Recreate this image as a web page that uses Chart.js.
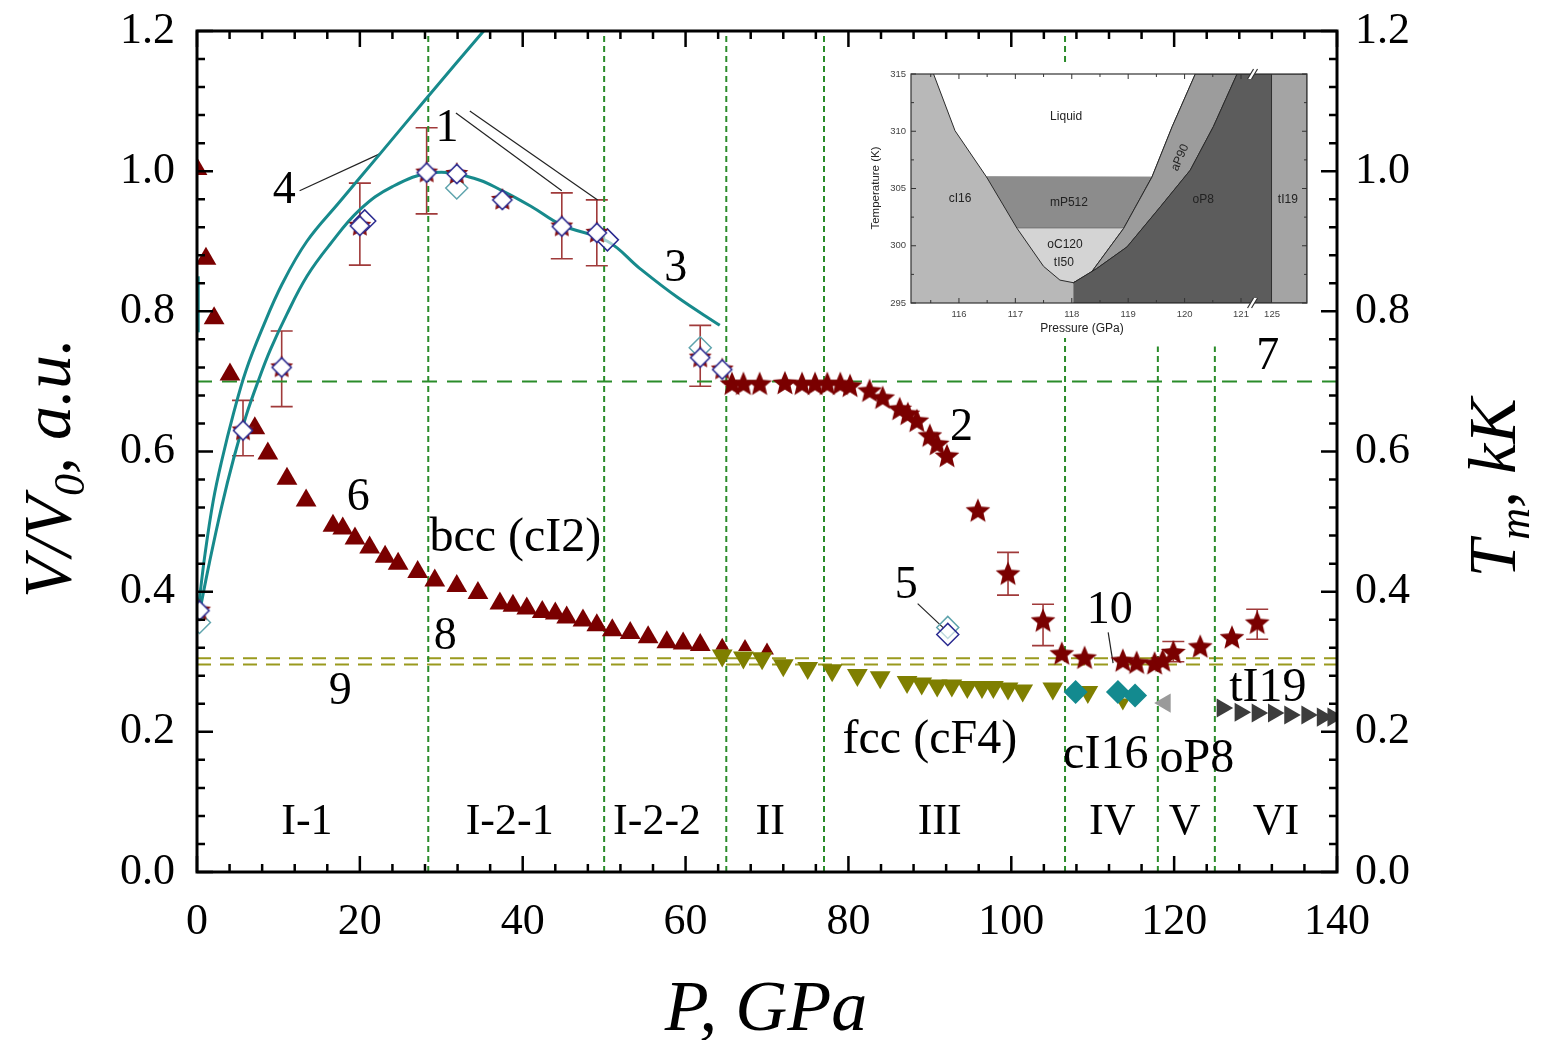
<!DOCTYPE html>
<html>
<head>
<meta charset="utf-8">
<script src="https://cdn.jsdelivr.net/npm/chart.js@4.4.1/dist/chart.umd.min.js"></script>
<style>
  html, body { margin: 0; padding: 0; background: #fff; }
  #wrap { position: relative; width: 1544px; height: 1040px; }
  #main { position: absolute; left: 0; top: 0; }
  #inset { position: absolute; left: 862px; top: 62px; }
</style>
</head>
<body>
<div id="wrap">
  <canvas id="main" width="1544" height="1040"></canvas>
  <canvas id="inset" width="454" height="276"></canvas>
</div>
<script>
const SERIF = '"Liberation Serif", "Times New Roman", serif';
const SANS = '"Liberation Sans", Arial, sans-serif';

// 6: bcc triangles
const triP = [0, 1.1, 2.1, 4.05, 7.1, 8.7, 11.05, 13.4, 16.7, 17.9, 19.4, 21.2, 23.1, 24.7, 27.1, 29.2,
  31.9, 34.5, 37.2, 38.8, 40.5, 42.4, 44.0, 45.4, 47.4, 49.1, 51.0, 53.2, 55.4, 57.7, 59.7, 61.8];
const triV = [1.003, 0.875, 0.790, 0.710, 0.633, 0.597, 0.561, 0.530, 0.494, 0.490, 0.476, 0.463, 0.450, 0.440, 0.428, 0.416,
  0.408, 0.398, 0.383, 0.380, 0.376, 0.371, 0.369, 0.363, 0.359, 0.352, 0.345, 0.341, 0.335, 0.328, 0.326, 0.324];
const triSmallP = [64.5, 67.3, 70.0];
const triSmallV = [0.323, 0.321, 0.316];

// fcc (down triangles)
const fccP = [64.5, 67.1, 69.4, 72.0, 75.0, 78.0, 81.1, 83.9, 87.2, 89.0, 90.9, 92.7, 94.6, 96.4, 97.8, 99.6, 101.4, 105.1, 109.4];
const fccV = [0.309, 0.306, 0.305, 0.295, 0.291, 0.288, 0.281, 0.278, 0.271, 0.269, 0.266, 0.266, 0.264, 0.264, 0.264, 0.262, 0.259, 0.262, 0.257];
const fccSmallP = [113.7];
const fccSmallV = [0.242];

// cI16, oP8, tI19
const ci16P = [107.9, 113.1, 115.2];
const ci16V = [0.257, 0.257, 0.252];
const op8P = [118.9];
const op8V = [0.241];
const ti19P = [125.9, 128.1, 130.2, 132.2, 134.2, 136.3, 138.2, 139.5];
const ti19V = [0.234, 0.228, 0.227, 0.227, 0.224, 0.224, 0.221, 0.221];

// 2: melting stars
const meltP = [65.7, 67.1, 69.1, 72.2, 74.3, 75.9, 77.4, 79.0, 80.2, 82.6, 84.2, 86.3, 87.3, 88.4, 90.0, 90.9, 92.1,
  95.9, 99.6, 103.9, 106.2, 109.0, 113.7, 115.4, 117.6, 118.6, 119.9, 123.2, 127.1, 130.2];
const meltV = [0.697, 0.697, 0.697, 0.698, 0.697, 0.697, 0.697, 0.697, 0.694, 0.687, 0.677, 0.661, 0.654, 0.644, 0.623, 0.611, 0.594,
  0.516, 0.426, 0.359, 0.312, 0.306, 0.302, 0.299, 0.298, 0.302, 0.314, 0.322, 0.335, 0.356];

// 1: experiment
const expP = [0.3, 5.65, 10.4, 20.0, 28.2, 31.9, 37.5, 44.8, 49.1, 61.8, 64.5];
const expV = [0.373, 0.630, 0.720, 0.922, 0.998, 0.996, 0.959, 0.921, 0.912, 0.734, 0.717];
const expOpenP = [20.6, 50.4, 92.2];
const expOpenV = [0.929, 0.902, 0.339];
const expLightP = [0.3, 31.9, 61.8, 92.2];
const expLightV = [0.356, 0.976, 0.748, 0.349];

// error bars
const errP = [5.65, 10.4, 20.0, 28.2, 44.8, 49.1, 61.8, 99.6, 103.9, 119.9, 130.2];
const errLo = [0.594, 0.664, 0.866, 0.939, 0.875, 0.865, 0.693, 0.395, 0.323, 0.300, 0.332];
const errHi = [0.673, 0.772, 0.983, 1.062, 0.969, 0.959, 0.780, 0.456, 0.382, 0.329, 0.375];

// curves 3 and 4
const c3P = [0.3, 1.5, 3.0, 4.5, 6.0, 7.5, 9.0, 11.0, 13.5, 16.3, 20, 24, 29, 34, 37.5, 41, 44.8, 50.4, 54.4, 59, 64.2];
const c3V = [0.37, 0.44, 0.52, 0.59, 0.65, 0.70, 0.745, 0.795, 0.85, 0.895, 0.945, 0.978, 0.998, 0.99, 0.972, 0.95, 0.923, 0.90, 0.861, 0.82, 0.78];
const c4P = [0.2, 1.0, 2.0, 3.0, 4.5, 6.0, 8.0, 10.5, 13.5, 17.5, 22.5, 28.4, 35.2];
const c4V = [0.38, 0.455, 0.53, 0.585, 0.655, 0.715, 0.775, 0.84, 0.90, 0.956, 1.025, 1.107, 1.2];
const c0P = [0.15, 0.15];
const c0V = [0.77, 0.85];

// phase boundaries and reference levels
const boundP = [28.4, 50, 65, 77, 106.6, 118, 125];
const boundTop = [1.2, 1.2, 1.2, 1.2, 1.2, 0.75, 0.75];
const line7V = 0.7;
const line8V = 0.305;
const line9V = 0.296;

// leader lines
const leadP0 = [31.8, 33.5, 12.6, 88.5, 111.9];
const leadV0 = [1.083, 1.086, 0.972, 0.383, 0.342];
const leadP1 = [44.8, 49.2, 22.5, 91.7, 112.5];
const leadV1 = [0.972, 0.959, 1.025, 0.348, 0.298];

// labels
const noteText = ['1', '4', '3', '2', '5', '6', '8', '9', '7', '10'];
const noteP = [30.7, 10.7, 58.8, 93.9, 87.1, 19.8, 30.5, 17.6, 131.5, 112.1];
const noteV = [1.060, 0.972, 0.861, 0.633, 0.408, 0.534, 0.336, 0.257, 0.735, 0.373];
const phaseText = ['bcc (cI2)', 'fcc (cF4)', 'cI16', 'oP8', 'tI19'];
const phaseP = [39.1, 90.0, 111.6, 122.8, 131.5];
const phaseV = [0.476, 0.188, 0.167, 0.160, 0.262];
const regionText = ['I-1', 'I-2-1', 'I-2-2', 'II', 'III', 'IV', 'V', 'VI'];
const regionP = [13.5, 38.4, 56.5, 70.4, 91.2, 112.4, 121.3, 132.5];
const regionV = 0.071;

const pts = (xs, ys) => xs.map((x, i) => ({ x, y: ys[i] }));

function starPath(g, r, inner) {
  g.beginPath();
  for (let i = 0; i < 10; i++) {
    const rr = i % 2 ? r * inner : r;
    const a = -Math.PI / 2 + i * Math.PI / 5;
    g.lineTo(rr * Math.cos(a), rr * Math.sin(a));
  }
  g.closePath();
}

function makeStar(r, fill) {
  const c = document.createElement('canvas');
  const s = Math.ceil(r * 2 + 4);
  c.width = c.height = s;
  const g = c.getContext('2d');
  g.translate(s / 2, s / 2 + 1);
  starPath(g, r, 0.45);
  g.fillStyle = fill;
  g.fill();
  return c;
}

function makeExpMarker(r) {
  const c = document.createElement('canvas');
  const s = Math.ceil(r * 2 + 4);
  c.width = c.height = s;
  const g = c.getContext('2d');
  g.translate(s / 2, s / 2);
  starPath(g, r, 0.5);
  g.fillStyle = '#8a1010';
  g.fill();
  const d = r * 0.8;
  g.beginPath();
  g.moveTo(0, -d); g.lineTo(d, 0); g.lineTo(0, d); g.lineTo(-d, 0); g.closePath();
  g.fillStyle = '#fff';
  g.fill();
  g.strokeStyle = '#2a2a90';
  g.lineWidth = 1.5;
  g.stroke();
  return c;
}

const starImg = makeStar(13, '#7a0000');
const expImg = makeExpMarker(12);

function marks(xs, ys, o) {
  return Object.assign({ data: pts(xs, ys), showLine: false, borderWidth: 0 }, o);
}
function curve(xs, ys, o) {
  return Object.assign({ data: pts(xs, ys), showLine: true, pointRadius: 0, fill: false }, o);
}

const datasets = [];
datasets.push(marks(expP, expV, { pointStyle: expImg, order: 1 }));
datasets.push(marks(expOpenP, expOpenV, { pointStyle: 'rectRot', pointRadius: 11, backgroundColor: 'rgba(255,255,255,0.6)', borderColor: '#2a2a90', borderWidth: 1.5, order: 2 }));
datasets.push(marks(expLightP, expLightV, { pointStyle: 'rectRot', pointRadius: 11, backgroundColor: 'rgba(255,255,255,0)', borderColor: '#5fa4ad', borderWidth: 1.5, order: 3 }));
datasets.push(marks(meltP, meltV, { pointStyle: starImg, order: 4 }));
datasets.push(marks(ci16P, ci16V, { pointStyle: 'rectRot', pointRadius: 12, backgroundColor: '#138a8f', order: 5 }));
datasets.push(marks(op8P, op8V, { pointStyle: 'triangle', rotation: -90, pointRadius: 11, backgroundColor: '#9a9a9a', order: 5 }));
datasets.push(marks(ti19P, ti19V, { pointStyle: 'triangle', rotation: 90, pointRadius: 11, backgroundColor: '#3c3c3c', order: 5 }));
datasets.push(marks(fccP, fccV, { pointStyle: 'triangle', rotation: 180, pointRadius: 12, backgroundColor: '#7f7f00', order: 6 }));
datasets.push(marks(fccSmallP, fccSmallV, { pointStyle: 'triangle', rotation: 180, pointRadius: 8, backgroundColor: '#7f7f00', order: 6 }));
datasets.push(marks(triSmallP, triSmallV, { pointStyle: 'triangle', pointRadius: 8, backgroundColor: '#7a0000', order: 7 }));
datasets.push(marks(triP, triV, { pointStyle: 'triangle', pointRadius: 12, backgroundColor: '#7a0000', order: 7 }));

const teal = '#178a8c';
datasets.push(curve(c3P, c3V, { borderColor: teal, borderWidth: 3, tension: 0.4, order: 8 }));
datasets.push(curve(c4P, c4V, { borderColor: teal, borderWidth: 3, tension: 0.4, order: 8 }));
datasets.push(curve(c0P, c0V, { borderColor: teal, borderWidth: 3, order: 8 }));

leadP0.forEach((p, i) => {
  datasets.push(curve([p, leadP1[i]], [leadV0[i], leadV1[i]], { borderColor: '#222', borderWidth: 1.2, order: 9 }));
});

const green = '#2a8c2a';
const olive = '#9a9a1e';
boundP.forEach((p, i) => {
  datasets.push(curve([p, p], [0, boundTop[i]], { borderColor: green, borderWidth: 2, borderDash: [6, 4], order: 10 }));
});
datasets.push(curve([0, 140], [line7V, line7V], { borderColor: green, borderWidth: 2, borderDash: [15, 10], order: 10 }));
datasets.push(curve([0, 140], [line8V, line8V], { borderColor: olive, borderWidth: 2, borderDash: [14, 9], order: 10 }));
datasets.push(curve([0, 140], [line9V, line9V], { borderColor: olive, borderWidth: 2, borderDash: [14, 9], order: 10 }));

const errorBars = {
  id: 'errorBars',
  beforeDatasetsDraw(chart) {
    const { ctx, scales: { x, y } } = chart;
    ctx.save();
    ctx.strokeStyle = '#a03a3a';
    ctx.lineWidth = 1.6;
    errP.forEach((p, i) => {
      const px = x.getPixelForValue(p);
      const lo = y.getPixelForValue(errLo[i]);
      const hi = y.getPixelForValue(errHi[i]);
      ctx.beginPath();
      ctx.moveTo(px, lo); ctx.lineTo(px, hi);
      ctx.moveTo(px - 11, lo); ctx.lineTo(px + 11, lo);
      ctx.moveTo(px - 11, hi); ctx.lineTo(px + 11, hi);
      ctx.stroke();
    });
    ctx.restore();
  }
};

const frameAndText = {
  id: 'frameAndText',
  afterDatasetsDraw(chart) {
    const { ctx, chartArea: a, scales: { x, y } } = chart;
    ctx.save();
    ctx.strokeStyle = '#000';
    ctx.lineWidth = 2.5;
    ctx.beginPath();
    for (let p = 0; p <= 140; p += 4) {
      const px = x.getPixelForValue(p);
      const len = p % 20 === 0 ? 16 : 8;
      ctx.moveTo(px, a.bottom); ctx.lineTo(px, a.bottom - len);
      ctx.moveTo(px, a.top); ctx.lineTo(px, a.top + len);
    }
    for (let i = 0; i <= 30; i++) {
      const py = y.getPixelForValue(i * 0.04);
      const len = i % 5 === 0 ? 16 : 8;
      ctx.moveTo(a.left, py); ctx.lineTo(a.left + len, py);
      ctx.moveTo(a.right, py); ctx.lineTo(a.right - len, py);
    }
    ctx.stroke();
    ctx.lineWidth = 3;
    ctx.strokeRect(a.left, a.top, a.right - a.left, a.bottom - a.top);

    ctx.fillStyle = '#000';
    ctx.textAlign = 'center';
    ctx.textBaseline = 'middle';
    ctx.font = '46px ' + SERIF;
    noteText.forEach((t, i) => ctx.fillText(t, x.getPixelForValue(noteP[i]), y.getPixelForValue(noteV[i])));
    ctx.font = '48px ' + SERIF;
    phaseText.forEach((t, i) => ctx.fillText(t, x.getPixelForValue(phaseP[i]), y.getPixelForValue(phaseV[i])));
    ctx.font = '44px ' + SERIF;
    regionText.forEach((t, i) => ctx.fillText(t, x.getPixelForValue(regionP[i]), y.getPixelForValue(regionV)));
    ctx.restore();
  },
  afterDraw(chart) {
    const { ctx } = chart;
    const italic = s => 'italic ' + s + 'px ' + SERIF;
    // runs of [text, size, baseline shift]
    const drawRuns = (runs, cx, cy, rot) => {
      ctx.save();
      ctx.translate(cx, cy);
      ctx.rotate(rot);
      let w = 0;
      runs.forEach(r => { ctx.font = italic(r[1]); w += ctx.measureText(r[0]).width; });
      let pos = -w / 2;
      ctx.textAlign = 'left';
      ctx.textBaseline = 'alphabetic';
      ctx.fillStyle = '#000';
      runs.forEach(r => {
        ctx.font = italic(r[1]);
        ctx.fillText(r[0], pos, r[2]);
        pos += ctx.measureText(r[0]).width;
      });
      ctx.restore();
    };
    drawRuns([['P, GPa', 72, 0]], 766, 1030, 0);
    drawRuns([['V/V', 68, 0], ['0', 44, 14], [', a.u.', 68, 0]], 70, 468, -Math.PI / 2);
    drawRuns([['T', 68, 0], ['m', 44, 14], [', kK', 68, 0]], 1515, 488, -Math.PI / 2);
  }
};

const tickFont = { family: SERIF, size: 44 };
const noPad = s => { s.paddingTop = 0; s.paddingBottom = 0; s.paddingLeft = 0; s.paddingRight = 0; };

new Chart(document.getElementById('main'), {
  type: 'scatter',
  data: { datasets },
  options: {
    responsive: false,
    animation: false,
    devicePixelRatio: 1,
    layout: { padding: { top: 31, left: 0, right: 0, bottom: 0 } },
    plugins: { legend: { display: false }, tooltip: { enabled: false } },
    scales: {
      x: {
        type: 'linear', position: 'bottom', min: 0, max: 140,
        grid: { display: false, drawTicks: false }, border: { display: false },
        ticks: { stepSize: 20, font: tickFont, color: '#000', padding: 24, maxRotation: 0 },
        afterFit: s => { s.height = 168; noPad(s); }
      },
      y: {
        type: 'linear', position: 'left', min: 0, max: 1.2,
        grid: { display: false, drawTicks: false }, border: { display: false },
        ticks: { stepSize: 0.2, font: tickFont, color: '#000', padding: 22, callback: v => v.toFixed(1) },
        afterFit: s => { s.width = 197; noPad(s); }
      },
      y2: {
        type: 'linear', position: 'right', min: 0, max: 1.2,
        grid: { display: false, drawTicks: false }, border: { display: false },
        ticks: { stepSize: 0.2, font: tickFont, color: '#000', padding: 18, callback: v => v.toFixed(1) },
        afterFit: s => { s.width = 207; noPad(s); }
      }
    }
  },
  plugins: [errorBars, frameAndText]
});

// ---- inset: phase diagram near 118 GPa ----
const BREAK_AT = 125;
const BREAK_POS = 121.55;
const ax = p => (p >= 124 ? p - BREAK_AT + BREAK_POS : p);

const leftBranchP = [115.55, 115.93, 116.49, 117.03, 117.50, 117.79, 118.03];
const leftBranchT = [315, 310.05, 306, 301.52, 298.2, 297.0, 296.77];
const innerP = [118.03, 118.29, 118.92, 119.42, 119.78, 120.19];
const innerT = [296.77, 297.3, 301.52, 305.98, 310.4, 315];
const outerP = [118.03, 118.44, 118.98, 119.57, 120.10, 120.51, 120.93];
const outerT = [296.77, 298.0, 299.9, 303.4, 306.6, 310.4, 315];
const insetPmin = 115.15;
const insetPmax = 125.62;
const insetTmin = 295;
const insetTmax = 315;
const mP512Top = 306;
const mP512Bottom = 301.52;

const insetLabels = ['Liquid', 'cI16', 'mP512', 'oC120', 'tI50', 'oP8', 'tI19'];
const insetLabelP = [117.90, 116.02, 117.95, 117.88, 117.86, 120.33, 125.28];
const insetLabelT = [311.3, 304.1, 303.8, 300.1, 298.5, 304.0, 304.0];

const poly = (ps, ts) => ps.map((p, i) => ({ x: ax(p), y: ts[i] }));
const rev = a => a.slice().reverse();

const regions = [
  // cI16 background
  { color: '#b8b8b8', data: poly([insetPmin, BREAK_AT, BREAK_AT, insetPmin], [insetTmin, insetTmin, insetTmax, insetTmax]) },
  // liquid
  { color: '#ffffff', data: poly(
      leftBranchP.slice(0, 3).concat(innerP.slice(3)),
      leftBranchT.slice(0, 3).concat(innerT.slice(3))) },
  // mP512
  { color: '#8c8c8c', data: poly(
      [leftBranchP[2], leftBranchP[3], innerP[2], innerP[3]],
      [mP512Top, mP512Bottom, mP512Bottom, mP512Top]) },
  // oC120 / tI50
  { color: '#d4d4d4', data: poly(
      leftBranchP.slice(3).concat(innerP.slice(1, 3)),
      leftBranchT.slice(3).concat(innerT.slice(1, 3))) },
  // aP90
  { color: '#9c9c9c', data: poly(innerP.concat(rev(outerP)), innerT.concat(rev(outerT))) },
  // oP8
  { color: '#5c5c5c', data: poly(
      outerP.concat([BREAK_AT, BREAK_AT, outerP[0]]),
      outerT.concat([insetTmax, insetTmin, insetTmin])) },
  // tI19
  { color: '#a4a4a4', data: poly([BREAK_AT, insetPmax, insetPmax, BREAK_AT], [insetTmin, insetTmin, insetTmax, insetTmax]) }
];

const insetSets = regions.map((r, i) => ({
  data: r.data, showLine: true, pointRadius: 0, tension: 0,
  fill: 'shape', backgroundColor: r.color,
  borderColor: i === 0 ? 'rgba(0,0,0,0)' : '#2a2a2a', borderWidth: 1,
  order: regions.length - i
}));

const insetDeco = {
  id: 'insetDeco',
  beforeDraw(chart) {
    const { ctx, width, height } = chart;
    ctx.save();
    ctx.fillStyle = '#fff';
    ctx.fillRect(0, 0, width, height);
    ctx.restore();
  },
  afterDatasetsDraw(chart) {
    const { ctx, chartArea: a, scales: { x, y } } = chart;
    ctx.save();
    ctx.fillStyle = '#222';
    ctx.font = '12px ' + SANS;
    ctx.textAlign = 'center';
    ctx.textBaseline = 'middle';
    insetLabels.forEach((t, i) => ctx.fillText(t, x.getPixelForValue(ax(insetLabelP[i])), y.getPixelForValue(insetLabelT[i])));
    ctx.save();
    ctx.translate(x.getPixelForValue(119.92), y.getPixelForValue(307.7));
    ctx.rotate(-1.15);
    ctx.fillText('aP90', 0, 0);
    ctx.restore();

    // frame and inward ticks
    ctx.strokeStyle = '#333';
    ctx.lineWidth = 1;
    ctx.beginPath();
    for (let p = 115.5; p <= 121.01; p += 0.5) {
      const px = x.getPixelForValue(p);
      const len = Math.abs(p - Math.round(p)) < 0.01 ? 5 : 3;
      ctx.moveTo(px, a.bottom); ctx.lineTo(px, a.bottom - len);
      ctx.moveTo(px, a.top); ctx.lineTo(px, a.top + len);
    }
    for (let t = insetTmin; t <= insetTmax; t += 2.5) {
      const py = y.getPixelForValue(t);
      const len = t % 5 === 0 ? 5 : 3;
      ctx.moveTo(a.left, py); ctx.lineTo(a.left + len, py);
      ctx.moveTo(a.right, py); ctx.lineTo(a.right - len, py);
    }
    ctx.stroke();
    ctx.lineWidth = 1.2;
    ctx.strokeRect(a.left, a.top, a.right - a.left, a.bottom - a.top);

    // axis break marks
    const bx = x.getPixelForValue(121.24);
    [a.top, a.bottom].forEach(by => {
      ctx.fillStyle = '#fff';
      ctx.beginPath();
      ctx.moveTo(bx - 7, by + 5); ctx.lineTo(bx - 1, by - 5); ctx.lineTo(bx + 3, by - 5); ctx.lineTo(bx - 3, by + 5);
      ctx.closePath();
      ctx.fill();
      ctx.beginPath();
      ctx.moveTo(bx - 7, by + 5); ctx.lineTo(bx - 1, by - 5);
      ctx.moveTo(bx - 3, by + 5); ctx.lineTo(bx + 3, by - 5);
      ctx.stroke();
    });
    ctx.restore();
  },
  afterDraw(chart) {
    const { ctx } = chart;
    ctx.save();
    ctx.fillStyle = '#222';
    ctx.font = '12px ' + SANS;
    ctx.textAlign = 'center';
    ctx.textBaseline = 'middle';
    ctx.fillText('Pressure (GPa)', 220, 267);
    ctx.translate(14, 126);
    ctx.rotate(-Math.PI / 2);
    ctx.font = '11.5px ' + SANS;
    ctx.fillText('Temperature (K)', 0, 0);
    ctx.restore();
  }
};

const insetTickFont = { family: SANS, size: 9.5 };

new Chart(document.getElementById('inset'), {
  type: 'scatter',
  data: { datasets: insetSets },
  options: {
    responsive: false,
    animation: false,
    devicePixelRatio: 1,
    layout: { padding: { top: 12, right: 9, left: 0, bottom: 0 } },
    plugins: { legend: { display: false }, tooltip: { enabled: false } },
    scales: {
      x: {
        type: 'linear', min: insetPmin, max: ax(insetPmax),
        grid: { display: false, drawTicks: false }, border: { display: false },
        afterBuildTicks: s => { s.ticks = [116, 117, 118, 119, 120, 121, BREAK_POS].map(v => ({ value: v })); },
        ticks: { font: insetTickFont, color: '#444', padding: 6, maxRotation: 0,
          callback: v => (v === BREAK_POS ? String(BREAK_AT) : String(v)) },
        afterFit: s => { s.height = 35; noPad(s); }
      },
      y: {
        type: 'linear', min: insetTmin, max: insetTmax,
        grid: { display: false, drawTicks: false }, border: { display: false },
        ticks: { stepSize: 5, font: insetTickFont, color: '#444', padding: 5 },
        afterFit: s => { s.width = 49; noPad(s); }
      }
    }
  },
  plugins: [insetDeco]
});
</script>
</body>
</html>
